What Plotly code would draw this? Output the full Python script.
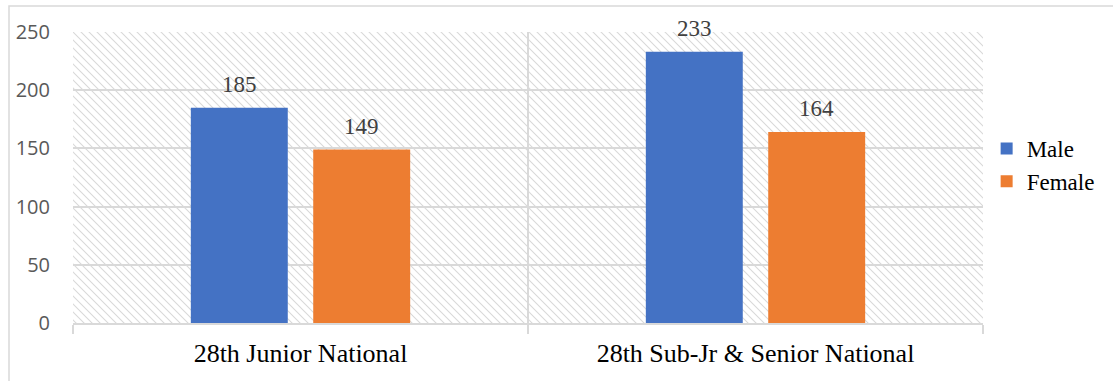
import plotly.graph_objects as go
import base64

categories = ["28th Junior National", "28th Sub-Jr & Senior National"]
male = [185, 233]
female = [149, 164]
series_names = ["Male", "Female"]
y_ticks = [0, 50, 100, 150, 200, 250]

colors = ["#4472C4", "#ED7D31"]
bargap = 0.462
bargroupgap = 0.208
serif = "Liberation Serif, Times New Roman, serif"

fig = go.Figure()
for name, vals, col in zip(series_names, [male, female], colors):
    fig.add_trace(go.Bar(x=categories, y=vals, name=name, marker_color=col,
                         marker_line_width=0, legendgroup=name))

# data labels as annotations
slot = (1 - bargap) / 2
for k, vals in enumerate([male, female]):
    off = (k - 0.5) * slot
    for i, v in enumerate(vals):
        fig.add_annotation(x=i + off, y=v, xref="x", yref="y", text=str(v),
                           showarrow=False, yanchor="bottom", yshift=9,
                           font=dict(family=serif, size=23, color="#404040"))

# hatched plot background
W, H = 910, 291
svg = f'''<svg xmlns="http://www.w3.org/2000/svg" width="{W}" height="{H}" viewBox="0 0 {W} {H}" preserveAspectRatio="none">
<defs><pattern id="h" width="8" height="8" patternUnits="userSpaceOnUse">
<path d="M-2,6 L2,10 M0,0 L8,8 M6,-2 L10,2" stroke="#d9d9d9" stroke-width="1.1"/>
</pattern></defs>
<rect width="{W}" height="{H}" fill="url(#h)"/></svg>'''
src = "data:image/svg+xml;base64," + base64.b64encode(svg.encode()).decode()
fig.add_layout_image(source=src, xref="x domain", yref="y domain", x=0, y=1,
                     sizex=1, sizey=1, xanchor="left", yanchor="top",
                     sizing="stretch", layer="below")

# outer frame (left and top edges visible)
fig.add_shape(type="rect", xref="paper", yref="paper",
              x0=(9 - 73) / 910, x1=1.3, y0=-0.5, y1=(323 - 6) / 291,
              line=dict(color="#d9d9d9", width=1.5), fillcolor="rgba(0,0,0,0)")

fig.update_layout(
    width=1113, height=381,
    margin=dict(l=73, r=130, t=32, b=58),
    paper_bgcolor="white", plot_bgcolor="rgba(0,0,0,0)",
    barmode="group", bargap=bargap, bargroupgap=bargroupgap,
    showlegend=True,
    legend=dict(x=1.004, xanchor="left", y=0.543, yanchor="middle",
                font=dict(family=serif, size=23, color="#000000"),
                tracegroupgap=12, traceorder="normal", itemwidth=30),
    xaxis=dict(type="category", tickson="boundaries", ticks="outside", ticklen=9,
               tickcolor="#d9d9d9", tickwidth=2, showgrid=True, gridcolor="#d9d9d9",
               gridwidth=2, showline=True, linecolor="#d9d9d9", linewidth=2,
               ticklabelstandoff=6,
               tickfont=dict(family=serif, size=26, color="#000000")),
    yaxis=dict(range=[0, 250], tickvals=y_ticks, showgrid=True, gridcolor="#d9d9d9",
               gridwidth=2, zeroline=False, showline=False, ticks="",
               ticklabelstandoff=22,
               tickfont=dict(family="Open Sans, Liberation Sans, sans-serif", size=20, color="#595959")),
)

fig.write_html("out.html")
